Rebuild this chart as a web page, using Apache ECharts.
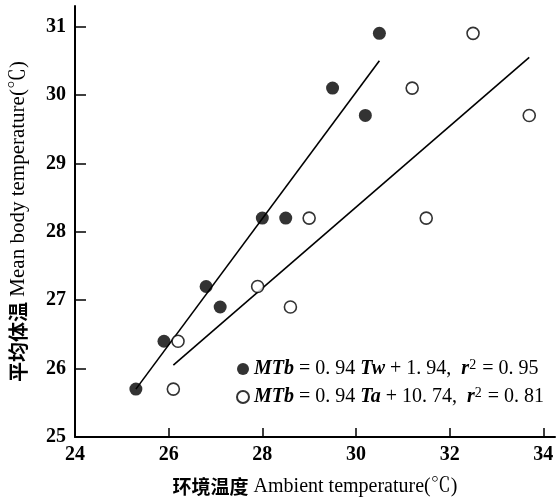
<!DOCTYPE html>
<html>
<head>
<meta charset="utf-8">
<script src="https://cdn.jsdelivr.net/npm/echarts@6/dist/echarts.min.js"></script>
<style>
html,body{margin:0;padding:0;background:#fff;}
#main{width:558px;height:502px;}
</style>
</head>
<body>
<div id="main"></div>
<script>
// Filled circles: water temperature (Tw) vs mean body temperature
const twPoints = [[25.3,25.7],[25.9,26.4],[26.8,27.2],[27.1,26.9],[28.0,28.2],[28.5,28.2],[29.5,30.1],[30.2,29.7],[30.5,30.9]];
// Open circles: air temperature (Ta) vs mean body temperature
const taPoints = [[26.1,25.7],[26.2,26.4],[27.9,27.2],[28.6,26.9],[29.0,28.2],[31.5,28.2],[31.2,30.1],[32.5,30.9],[33.7,29.7]];
// Regression lines as drawn (end points)
const twLine = [[25.3,25.7],[30.5,30.5]];
const taLine = [[26.1,26.05],[33.7,30.55]];
const xTicks = [24,26,28,30,32,34];
const yTicks = [25,26,27,28,29,30,31];
const xName = '{c|环境温度} Ambient temperature(℃)';
const yName = '{c|平均体温} Mean body temperature(℃)';
const twLegend = '{i|MTb} = 0. 94 {i|Tw} + 1. 94,  {i|r}{s|2} = 0. 95';
const taLegend = '{i|MTb} = 0. 94 {i|Ta} + 10. 74,  {i|r}{s|2} = 0. 81';

const serif = '"Liberation Serif","Noto Serif CJK SC","Noto Sans CJK SC",serif';
const cjk = '"Noto Sans CJK SC",sans-serif';
const chart = echarts.init(document.getElementById('main'), null, {renderer:'canvas'});
chart.setOption({
  animation:false,
  backgroundColor:'#fff',
  grid:{left:74, top:6, right:3, bottom:62, containLabel:false},
  xAxis:{
    type:'value', min:24, max:34.25, interval:2,
    name:xName, nameLocation:'middle', nameGap:40,
    nameTextStyle:{fontFamily:serif, fontSize:20, color:'#000',
      rich:{c:{fontFamily:cjk, fontSize:19, fontWeight:'bold', color:'#000'}}},
    axisLine:{show:true, onZero:false, lineStyle:{color:'#000', width:2}},
    axisTick:{show:true, inside:true, length:9, customValues:xTicks, lineStyle:{color:'#000', width:1.5}},
    axisLabel:{customValues:xTicks, fontFamily:serif, fontSize:20, fontWeight:'bold', color:'#000', margin:8},
    splitLine:{show:false}
  },
  yAxis:{
    type:'value', min:25, max:31.3, interval:1,
    name:yName, nameLocation:'middle', nameGap:46, nameRotate:90,
    nameTextStyle:{fontFamily:serif, fontSize:21, color:'#000',
      rich:{c:{fontFamily:cjk, fontSize:20, fontWeight:'bold', color:'#000'}}},
    axisLine:{show:true, onZero:false, lineStyle:{color:'#000', width:2}},
    axisTick:{show:true, inside:true, length:11, customValues:yTicks, lineStyle:{color:'#000', width:1.5}},
    axisLabel:{customValues:yTicks, fontFamily:serif, fontSize:20, fontWeight:'bold', color:'#000', margin:9},
    splitLine:{show:false}
  },
  legend:{
    orient:'vertical', left:231, top:353, itemWidth:12, itemHeight:12, itemGap:7,
    data:['Tw','Ta'],
    formatter:function(n){return n==='Tw'?twLegend:taLegend;},
    textStyle:{fontFamily:serif, fontSize:20, color:'#000',
      rich:{i:{fontFamily:serif, fontSize:20, fontStyle:'italic', fontWeight:'bold', color:'#000'},
            s:{fontFamily:serif, fontSize:14, verticalAlign:'top', padding:[0,1,8,0], color:'#000'}}}
  },
  series:[
    {type:'line', data:twLine, symbol:'none', silent:true, lineStyle:{color:'#000', width:1.6}},
    {type:'line', data:taLine, symbol:'none', silent:true, lineStyle:{color:'#000', width:1.6}},
    {name:'Tw', type:'scatter', data:twPoints, symbol:'circle', symbolSize:13,
      itemStyle:{color:'#000', borderColor:'#000', borderWidth:0}, z:5},
    {name:'Ta', type:'scatter', data:taPoints, symbol:'circle', symbolSize:12,
      itemStyle:{color:'#fff', borderColor:'#000', borderWidth:1.6}, z:5}
  ]
});
</script>
</body>
</html>
